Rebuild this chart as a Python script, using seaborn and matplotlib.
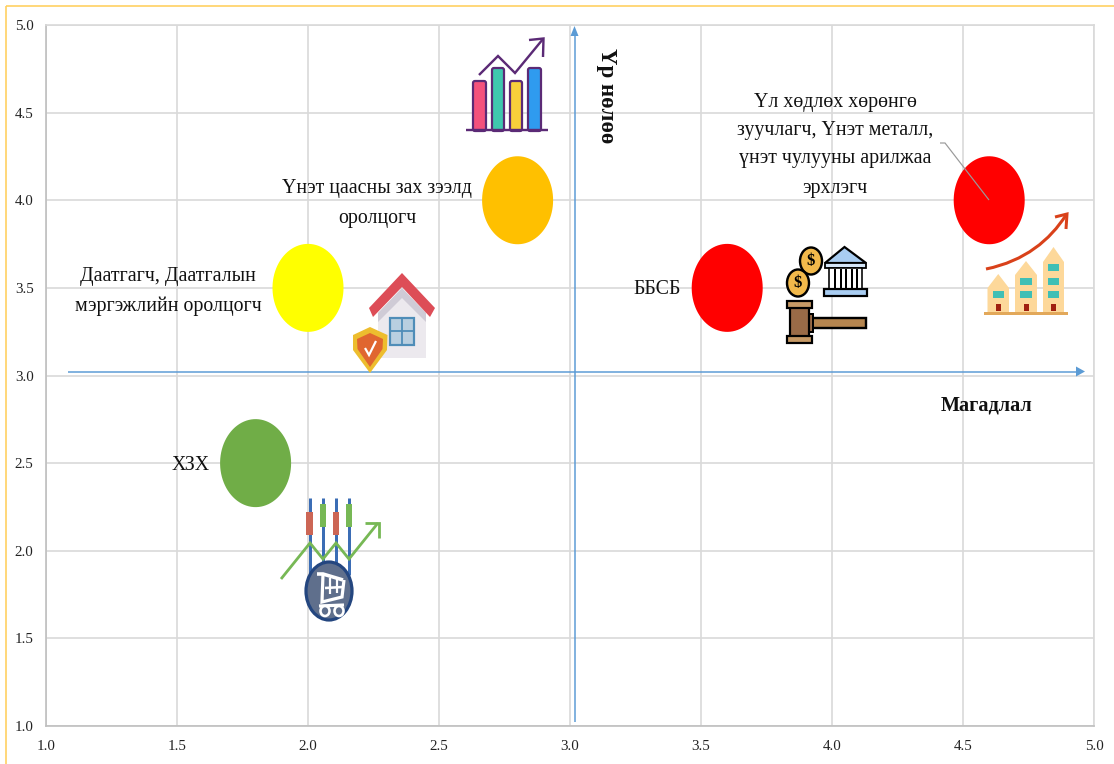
"""
Үр нөлөө / Магадлал матриц
"""
import numpy as np
import pandas as pd
import matplotlib
matplotlib.use('Agg')
import matplotlib.pyplot as plt
import seaborn as sns
from matplotlib.path import Path
from matplotlib.patches import Polygon, Rectangle, Ellipse, FancyBboxPatch, PathPatch

# --- data ---
names = ['Үнэт цаас', 'Даатгал', 'ХЗХ', 'ББСБ', 'Үл хөдлөх']
prob = [2.8, 2.0, 1.8, 3.6, 4.6]
impact = [4.0, 3.5, 2.5, 3.5, 4.0]
colors = ['#FFC000', '#FFFF00', '#70AD47', '#FF0000', '#FF0000']
ticks = [1.0, 1.5, 2.0, 2.5, 3.0, 3.5, 4.0, 4.5, 5.0]
x_title = 'Магадлал'
y_title = 'Үр нөлөө'

sns.set_style("whitegrid")
plt.rcParams['font.family'] = ['Liberation Serif', 'DejaVu Serif']

W, H = 1114, 764
fig = plt.figure(figsize=(W / 100, H / 100), dpi=100, facecolor='white')
L, R, T, B = 46, 1094, 25, 726
ax = fig.add_axes([L / W, 1 - B / H, (R - L) / W, (B - T) / H])

# ellipse marker (the chart was stretched)
th = np.linspace(0, 2 * np.pi, 90)
oval = Path(np.c_[0.807 * np.cos(th), np.sin(th)], closed=True)

df = pd.DataFrame({'name': names, 'prob': prob, 'impact': impact})
sns.scatterplot(data=df, x='prob', y='impact', hue='name', palette=colors,
                marker=oval, s=(88 * 0.72) ** 2, linewidth=0, legend=False,
                clip_on=False, zorder=3, ax=ax)

ax.set_xlim(1, 5)
ax.set_ylim(1, 5)
ax.set_xticks(ticks)
ax.set_yticks(ticks)
ax.set_xticklabels([f'{t:.1f}' for t in ticks])
ax.set_yticklabels([f'{t:.1f}' for t in ticks])
ax.set_xlabel('')
ax.set_ylabel('')
ax.grid(True, color='#D9D9D9', linewidth=1.2)
ax.set_axisbelow(True)
for s in ax.spines.values():
    s.set_color('#D9D9D9')
    s.set_linewidth(1.2)
ax.spines['left'].set_color('#BFBFBF')
ax.spines['bottom'].set_color('#BFBFBF')
ax.tick_params(axis='both', length=0, labelsize=10.8, colors='#222222')
ax.tick_params(axis='x', pad=10)
ax.tick_params(axis='y', pad=9)

# --- overlay in picture pixels for annotation shapes and icons ---
ov = fig.add_axes([0, 0, 1, 1], zorder=5)
ov.set_xlim(0, W)
ov.set_ylim(H, 0)
ov.axis('off')
ov.patch.set_alpha(0)


def line(xs, ys, c, lw=1.0):
    ov.plot(xs, ys, color=c, lw=lw * 0.72, solid_capstyle='butt', solid_joinstyle='miter', zorder=2)


def poly(pts, fc, ec='none', lw=0.0):
    ov.add_patch(Polygon(pts, closed=True, fc=fc, ec=ec, lw=lw * 0.72, joinstyle='miter', zorder=2))


def rect(x0, y0, x1, y1, fc, ec='none', lw=0.0):
    ov.add_patch(Rectangle((x0, y0), x1 - x0, y1 - y0, fc=fc, ec=ec, lw=lw * 0.72, zorder=2))


def oval_p(cx, cy, w, h, fc, ec='none', lw=0.0):
    ov.add_patch(Ellipse((cx, cy), w, h, fc=fc, ec=ec, lw=lw * 0.72, zorder=2))


# page border
line([5.5, 5.5], [H, 5.5], '#FFCF5C', 1.6)
line([5.5, W], [5.5, 5.5], '#FFCF5C', 1.6)

# blue arrows
blue = '#5B9BD5'
line([68, 1078], [371.5, 371.5], blue, 1.5)
poly([(1076, 366.5), (1085, 371.5), (1076, 376.5)], blue)
line([574.5, 574.5], [722, 34], blue, 1.5)
poly([(570.5, 36), (574.5, 26), (578.5, 36)], blue)

# labels
txt = dict(ha='center', va='center', color='#111111', fontsize=14.3)
ov.text(377, 188, 'Үнэт цаасны зах зээлд', **txt)
ov.text(377, 218, 'оролцогч', **txt)
ov.text(168, 276, 'Даатгагч, Даатгалын', **txt)
ov.text(168, 306, 'мэргэжлийн оролцогч', **txt)
ov.text(191, 465, 'ХЗХ', **txt)
ov.text(657, 289, 'ББСБ', **txt)
for yy, s in zip([102, 131, 159, 188], ['Үл хөдлөх хөрөнгө', 'зуучлагч, Үнэт металл,',
                                        'үнэт чулууны арилжаа', 'эрхлэгч']):
    ov.text(835, yy, s, **txt)
line([940, 945, 989], [143, 143, 200], '#9A9A9A', 1.2)

ov.text(987, 406, x_title, ha='center', va='center', fontsize=14.6, fontweight='bold', color='#111111')
ov.text(606, 96, y_title, ha='center', va='center', rotation=270, fontsize=16.5,
        fontweight='bold', color='#111111')

# chart icon
purple = '#5B2A76'
for x0, x1, top, c in [(473, 486, 81, '#F4527C'), (492, 504, 68, '#3FC8AE'),
                       (510, 522, 81, '#F9D03A'), (528, 541, 68, '#2F9BEF')]:
    ov.add_patch(FancyBboxPatch((x0 + 2, top + 2), x1 - x0 - 4, 129 - top - 2,
                                boxstyle='round,pad=2', fc=c, ec=purple, lw=1.6, zorder=2))
line([466, 548], [130, 130], purple, 2.4)
line([479, 498, 515, 543], [75, 56, 73, 39], purple, 2.4)
line([529, 543.5, 543], [40, 38.5, 57], purple, 2.4)

# house + shield
poly([(378, 313), (402, 288), (426, 313), (426, 358), (378, 358)], '#ECE9EE')
poly([(378, 313), (402, 288), (426, 313), (426, 322), (402, 298), (378, 322)], '#CFCBD6')
poly([(369, 308), (402, 273), (435, 308), (430, 317), (402, 287), (373, 317)], '#DD4D57')
rect(390, 318, 414, 345, '#B9CFE0', '#4F8DB8', 2.2)
line([402, 402], [318, 345], '#4F8DB8', 1.8)
line([390, 414], [331, 331], '#4F8DB8', 1.8)
poly([(370, 327), (387.5, 335), (387, 350), (370, 373), (353, 350), (353, 335)], '#EDBD2E')
poly([(370, 333), (383, 339), (382.5, 349), (370, 367), (357.5, 349), (357, 339)], '#E0662F')
line([365, 369, 376], [348, 355, 341], 'white', 2.2)

# bank
poly([(844.5, 247), (825, 263), (866, 263)], '#A9CDF2', 'black', 2.2)
rect(825, 263, 866, 268, '#D5E6F8', 'black', 1.8)
rect(829, 268, 862, 289, 'white', 'black', 1.6)
for cx in [835, 840.5, 846, 851.5, 857]:
    line([cx, cx], [269, 289], 'black', 2.0)
rect(824, 289, 867, 296, '#A9CDF2', 'black', 2.2)

# coins
for cx, cy in [(811, 261), (798, 283)]:
    oval_p(cx, cy, 22, 27, '#F2B94B', 'black', 2.4)
    ov.text(cx, cy, '$', ha='center', va='center', fontsize=12, fontweight='bold', color='black')

# gavel
rect(812, 318, 866, 328, '#B5854F', 'black', 2.4)
rect(806, 314, 813, 332, '#9A6B47', 'black', 2.0)
rect(790, 304, 809, 340, '#9A6B47', 'black', 2.2)
rect(787, 301, 812, 308, '#C79A66', 'black', 2.2)
rect(787, 336, 812, 343, '#C79A66', 'black', 2.2)

# buildings
for x0, x1, apex, sh, rows in [(987.5, 1009, 274, 288, [294]),
                               (1015, 1037, 261, 275, [281, 294]),
                               (1043, 1064, 247, 262, [267, 281, 294])]:
    poly([(x0, 312), (x0, sh), ((x0 + x1) / 2, apex), (x1, sh), (x1, 312)], '#FDD89A')
    for wy in rows:
        rect(x0 + 5, wy - 3.5, x1 - 5, wy + 3.5, '#3FBFB5')
    rect((x0 + x1) / 2 - 2.5, 304, (x0 + x1) / 2 + 2.5, 311, '#A02010')
rect(984, 311.5, 1068, 315, '#E2A85A')
curve = Path([(986, 269), (1025, 261), (1050, 240), (1066, 215)],
             [Path.MOVETO, Path.CURVE4, Path.CURVE4, Path.CURVE4])
ov.add_patch(PathPatch(curve, fc='none', ec='#D9411A', lw=2.2, zorder=2))
line([1055, 1067, 1066], [217, 214, 229], '#D9411A', 3.0)

# candles + cart
for cx, red in zip([309.5, 323, 336, 349], [True, False, True, False]):
    line([cx, cx], [498, 575], '#3B6DB5', 3.0)
    y0, y1 = (512, 535) if red else (504, 527)
    rect(cx - 3.2, y0, cx + 3.2, y1, '#CC6655' if red else '#77B855')
line([281, 310, 323, 336, 349, 378], [579, 543, 559, 543, 559, 523], '#77B855', 2.8)
line([365, 378.5, 378.5], [523, 523, 538], '#77B855', 2.8)
oval_p(329, 591, 46, 58, '#5F6F8C', '#24467F', 3.2)
line([317, 323, 343], [574, 574, 580], 'white', 3.6)
line([323, 322, 342, 344], [574, 602, 597, 580], 'white', 3.2)
line([325, 343], [588, 587], 'white', 2.6)
line([330, 330], [578, 594], 'white', 2.2)
line([337, 337], [579, 593], 'white', 2.2)
line([319, 344], [606, 605], 'white', 3.2)
oval_p(325, 611, 9, 10, '#5F6F8C', 'white', 2.6)
oval_p(339, 611, 9, 10, '#5F6F8C', 'white', 2.6)

fig.savefig('out.png', dpi=100, facecolor='white')
